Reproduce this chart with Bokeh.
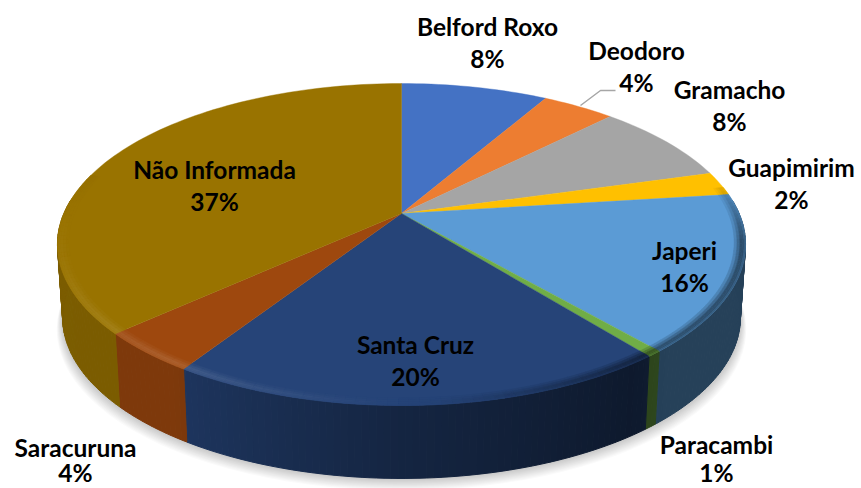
import numpy as np
from bokeh.plotting import figure
from bokeh.core.properties import value
from bokeh.embed import file_html
from bokeh.resources import INLINE

categories = ["Belford Roxo", "Deodoro", "Gramacho", "Guapimirim", "Japeri",
              "Paracambi", "Santa Cruz", "Saracuruna", "Não Informada"]
shares = [8.3, 4.1, 8.2, 2.4, 15.7, 0.6, 19.8, 4.1, 36.8]
percent_labels = ["8%", "4%", "8%", "2%", "16%", "1%", "20%", "4%", "37%"]
colors = ["#4472c4", "#ed7d31", "#a5a5a5", "#ffc000", "#5b9bd5",
          "#70ad47", "#264478", "#9e480e", "#997300"]
label_x = [487, 636, 729, 791, 684, 716, 415, 75, 214]
label_y = [26, 50, 89, 167, 250, 444, 344, 447, 169]
percent_y = [58, 82, 121, 199, 282, 472, 376, 472, 201]

W, H = 861, 488
CX, CY, R, S, K = 401.0, 213.0, 337.6, 155.0, 0.1925
WALL, BOTTOM_SCALE = 73.0, 0.985


def proj(theta, r=1.0):
    """theta in degrees, clockwise from the back of the pie; perspective projection."""
    t = np.radians(theta)
    w = 1 + K * r * np.cos(t)
    return CX + R * r * np.sin(t) / w, CY - S * r * np.cos(t) / w


def bottom(theta):
    x, y = proj(theta)
    return CX + (x - CX) * BOTTOM_SCALE, y + WALL


def mix(hex_color, f):
    c = np.array([int(hex_color[i:i + 2], 16) for i in (1, 3, 5)], float)
    if f <= 1:
        c = c * f
    else:
        c = c + (255 - c) * (f - 1)
    return "#%02x%02x%02x" % tuple(int(v) for v in np.clip(c, 0, 255))


def wall_factor(theta):
    return float(np.interp(theta, [100, 138, 145, 180, 215, 280], [.42, .42, .38, .55, .80, .82]))


def rim_shade(theta):
    return float(np.interp(theta, [80, 100, 140, 175, 215, 250, 285],
                           [.90, .50, .52, .98, 1.13, 1.04, .98]))


p = figure(width=W, height=H, x_range=(0, W), y_range=(H, 0),
           output_backend="svg", toolbar_location=None, min_border=0, outline_line_color=None)
p.axis.visible = False
p.grid.visible = False

edges = np.concatenate([[0], np.cumsum(shares)]) * 360 / np.sum(shares)

# soft shadow under the wall
th = np.arange(85, 276, 3.0)
bx, by = bottom(th)
for off in range(1, 12):
    sx = CX + (bx - CX) * (1 + off * 0.0016)
    sy = by + off * 1.1
    p.patch(np.r_[sx, sx[::-1]], np.r_[sy, sy[::-1] - 70], fill_color="#000000",
            fill_alpha=0.018, line_color=None)

# walls
xs, ys, cs = [], [], []
for i, col in enumerate(colors):
    a0, a1 = max(edges[i], 85), min(edges[i + 1], 275)
    if a1 <= a0:
        continue
    grid = np.r_[np.arange(a0, a1, 1.0), a1]
    for u, v in zip(grid[:-1], grid[1:]):
        x0, y0 = proj(u); x1, y1 = proj(v)
        x2, y2 = bottom(v); x3, y3 = bottom(u)
        xs.append([x0, x1, x2, x3]); ys.append([y0, y1, y2, y3])
        cs.append(mix(col, wall_factor((u + v) / 2)))
p.patches(xs, ys, fill_color=cs, line_color=cs, line_width=1)

# top faces
for i, col in enumerate(colors):
    grid = np.r_[np.arange(edges[i], edges[i + 1], 1.5), edges[i + 1]]
    x, y = proj(grid)
    p.patch(np.r_[CX, x], np.r_[CY, y], fill_color=col, line_color=col, line_width=0.4)

# bevelled rim along the front edge
xs, ys, cs = [], [], []
radii = [0.968, 0.976, 0.984, 0.991, 0.996, 1.0]
ramp = [0.3, 0.65, 1.0, 1.0, 0.8]
for i, col in enumerate(colors):
    a0, a1 = max(edges[i], 80), min(edges[i + 1], 285)
    if a1 <= a0:
        continue
    grid = np.r_[np.arange(a0, a1, 1.5), a1]
    for u, v in zip(grid[:-1], grid[1:]):
        for j, amt in enumerate(ramp):
            x0, y0 = proj(u, radii[j]); x1, y1 = proj(v, radii[j])
            x2, y2 = proj(v, radii[j + 1]); x3, y3 = proj(u, radii[j + 1])
            xs.append([x0, x1, x2, x3]); ys.append([y0, y1, y2, y3])
            shade = 1 + (rim_shade((u + v) / 2) - 1) * amt
            cs.append(mix(col, shade))
p.patches(xs, ys, fill_color=cs, line_color=cs, line_width=0.5)

# leader line for Deodoro
p.line([580, 600, 615], [105, 90, 90], line_color="#a6a6a6", line_width=1.5)

font = value("Lato")
p.text(label_x, label_y, text=categories, text_font=font, text_font_style="bold",
       text_font_size="24.5px", text_color="#000000", text_align="center", text_baseline="middle")
p.text(label_x, percent_y, text=percent_labels, text_font=font,
       text_font_style="bold", text_font_size="24.5px", text_color="#000000",
       text_align="center", text_baseline="middle")

open("out.html", "w").write(file_html(p, INLINE))
